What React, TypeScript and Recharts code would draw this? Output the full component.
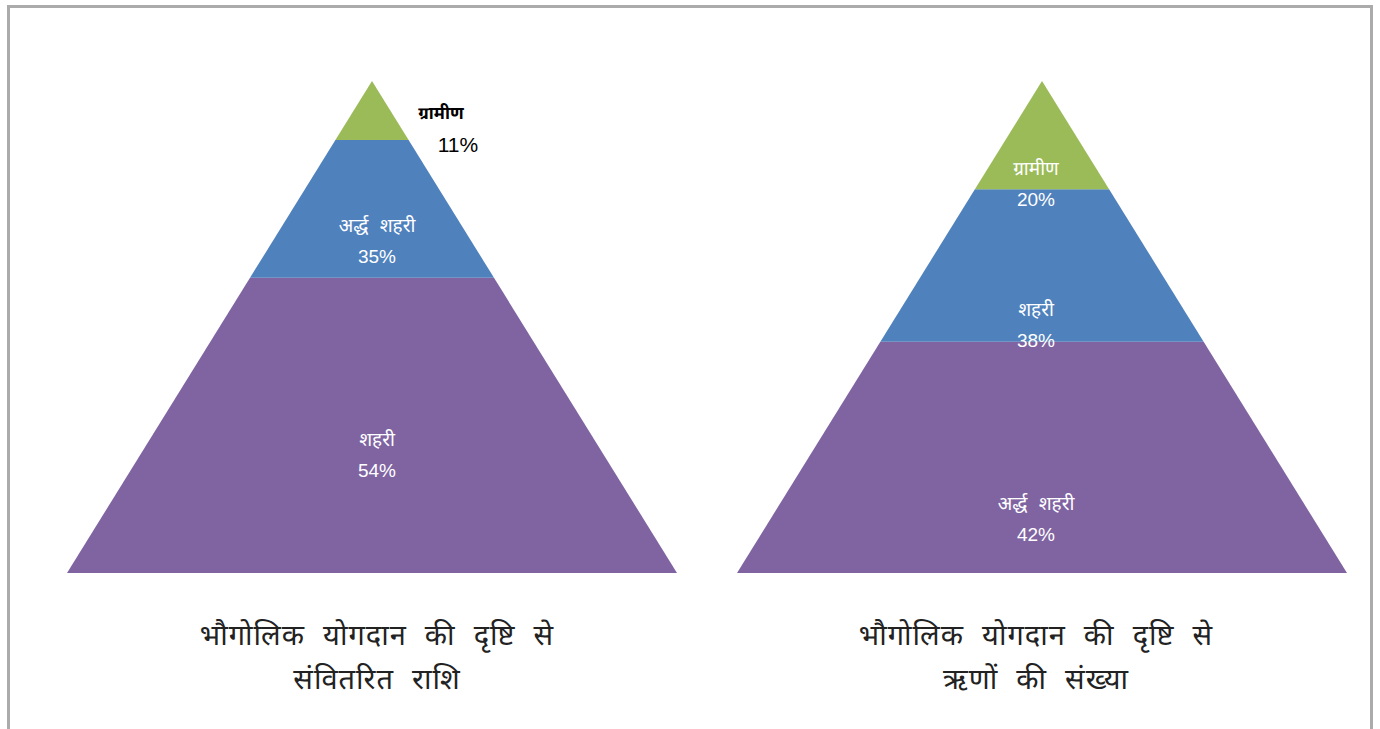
import { BarChart, Bar, XAxis, YAxis, LabelList } from 'recharts';

// band names, top to bottom
const leftNames = ['ग्रामीण', 'अर्द्ध शहरी', 'शहरी'];
const leftLabels = ['11%', '35%', '54%'];
// visible share of pyramid height for each band
const leftShares = [12, 28, 60];

const rightNames = ['ग्रामीण', 'शहरी', 'अर्द्ध शहरी'];
const rightLabels = ['20%', '38%', '42%'];
const rightShares = [22, 31, 47];

const leftTitle = ['भौगोलिक योगदान की दृष्टि से', 'संवितरित राशि'];
const rightTitle = ['भौगोलिक योगदान की दृष्टि से', 'ऋणों की संख्या'];

const COLORS = ['#9BBB59', '#4F81BD', '#8064A2'];
const FONT = '"Liberation Sans", Arial, "Noto Sans Devanagari", "Lohit Devanagari", sans-serif';

const CHART_W = 610;
const CHART_H = 492;

function Pyramid({ names, labels, shares, labelPos, left, labelDx }: any) {
  const row: any = { name: 'p' };
  shares.forEach((s: number, i: number) => { row['b' + i] = s; });

  // trapezoid slice of the whole triangle
  const slice = (props: any) => {
    const { x, y, width, height, fill } = props;
    const cx = x + width / 2;
    const half = (yy: number) => (width / 2) * (yy / CHART_H);
    const t = y, b = y + height;
    const d = `M${cx - half(t)},${t} L${cx + half(t)},${t} L${cx + half(b)},${b} L${cx - half(b)},${b} Z`;
    return <path d={d} fill={fill} />;
  };

  const makeLabel = (i: number) => (props: any) => {
    const { x, y, width, height } = props;
    const pos = labelPos[i];
    const outside = pos.outside;
    const cx = outside ? x + width / 2 + pos.dx : x + width / 2 + labelDx;
    const ly = y + height * pos.f;
    const color = outside ? '#000' : '#fff';
    return (
      <g>
        <text x={cx} y={ly - 15} textAnchor="middle" dominantBaseline="central" fill={color}
          fontSize={outside ? 17 : 19} fontWeight={outside ? 'bold' : 'normal'} fontFamily={FONT}
          style={{ wordSpacing: 6 }}>{names[i]}</text>
        <text x={outside ? cx + 17 : cx} y={ly + 16} textAnchor="middle" dominantBaseline="central" fill={color}
          fontSize={outside ? 21 : 19} fontFamily={FONT}>{labels[i]}</text>
      </g>
    );
  };

  const order = [2, 1, 0]; // stack from bottom up
  return (
    <div style={{ position: 'absolute', left, top: 81 }}>
      <BarChart width={CHART_W} height={CHART_H} data={[row]} margin={{ top: 0, right: 0, bottom: 0, left: 0 }} barCategoryGap={0}>
        <XAxis dataKey="name" hide />
        <YAxis hide domain={[0, 100]} />
        {order.map((i) => (
          <Bar key={i} dataKey={'b' + i} stackId="s" fill={COLORS[i]} shape={slice} isAnimationActive={false}>
            <LabelList dataKey={'b' + i} content={makeLabel(i)} />
          </Bar>
        ))}
      </BarChart>
    </div>
  );
}

function Title({ lines, cx }: any) {
  return (
    <div style={{ position: 'absolute', left: cx - 300, top: 613, width: 600, textAlign: 'center',
      fontFamily: FONT, fontSize: 29, lineHeight: '44px', color: '#222', wordSpacing: 9, letterSpacing: 1 }}>
      {lines.map((l: string, i: number) => <div key={i}>{l}</div>)}
    </div>
  );
}

export default function App() {
  return (
    <div style={{ position: 'absolute', left: 0, top: 0, width: 1380, height: 729, background: '#fff', overflow: 'hidden' }}>
      <div style={{ position: 'absolute', left: 7, top: 5, width: 1360, height: 760, border: '3px solid #ABABAB', borderBottom: 'none' }} />
      <Pyramid names={leftNames} labels={leftLabels} shares={leftShares} left={67} labelDx={5}
        labelPos={[{ f: 0.8, outside: true, dx: 69 }, { f: 0.73 }, { f: 0.6 }]} />
      <Pyramid names={rightNames} labels={rightLabels} shares={rightShares} left={737} labelDx={-6}
        labelPos={[{ f: 0.945 }, { f: 0.89 }, { f: 0.765 }]} />
      <Title lines={leftTitle} cx={377} />
      <Title lines={rightTitle} cx={1036} />
    </div>
  );
}
